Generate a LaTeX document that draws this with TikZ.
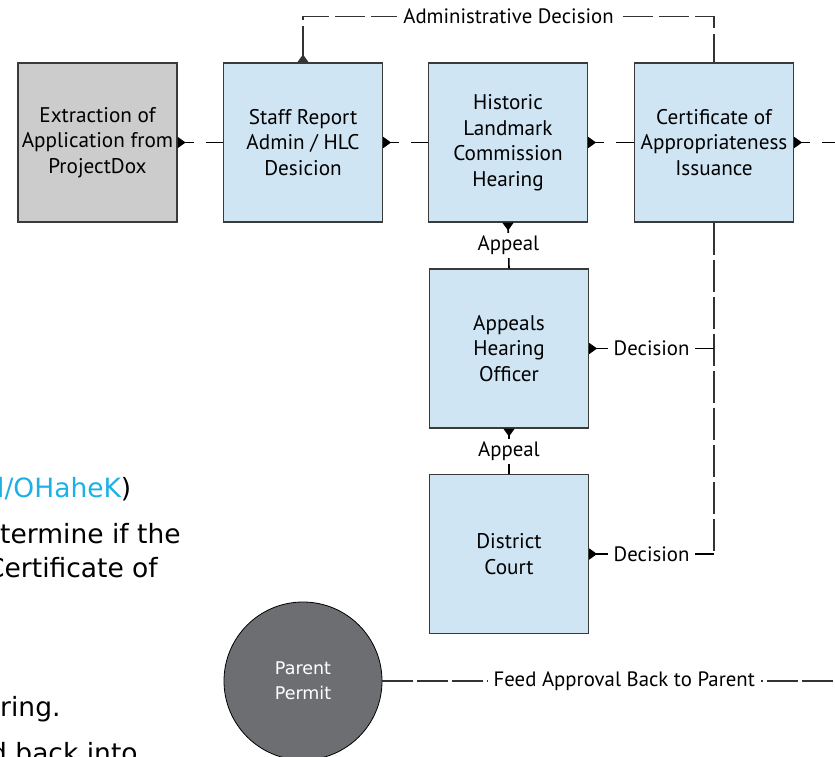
\documentclass[tikz,border=0pt]{standalone}
\usepackage{fontspec}
\setmainfont{PT Sans}
\newfontfamily\docfont{DejaVu Sans}
\usetikzlibrary{arrows.meta}
\definecolor{boxblue}{HTML}{CFE5F4}
\definecolor{boxgray}{HTML}{CCCCCC}
\definecolor{permitgray}{HTML}{6D6E71}
\definecolor{linkcyan}{HTML}{1BB1E6}
\definecolor{edgegray}{HTML}{3A3A3A}
\definecolor{wiregray}{HTML}{333333}
\begin{document}
\begin{tikzpicture}[x=1pt,y=-1pt,
  stepbox/.style={draw=edgegray, line width=1.2pt, fill=boxblue,
    minimum width=159pt, minimum height=159pt, inner sep=0pt,
    align=center, font=\fontsize{21.2}{25.5}\selectfont, text=black},
  graybox/.style={stepbox, fill=boxgray},
  lbl/.style={fill=white, inner sep=6pt, font=\fontsize{20.8}{25.5}\selectfont},
  outtip/.style={arrows={{Triangle[reversed,length=8pt,width=11pt]}-}},
  flowline/.style={draw=black, line width=1.8pt, outtip,
    dash pattern=on 10pt off 12pt on 60pt off 10pt},
  longdash/.style={draw=wiregray, line width=1.4pt,
    dash pattern=on 30pt off 6pt},
  shortline/.style={draw=black, line width=1.6pt, outtip},
  doctext/.style={inner sep=0pt, anchor=base west,
    font=\docfont\fontsize{26.5}{30}\selectfont}
]
\useasboundingbox (0,0) rectangle (835,757);
\clip (0,0) rectangle (835,757);

% text of the page lying beside the chart
\node[doctext] (d1) at (-3,497) {\textcolor{linkcyan}{l/OHaheK})};
\node[doctext] (d2) at (0,543) {termine if the};
\node[doctext] (d3) at (-14,577) {Certificate of};
\node[doctext] (d4) at (0,716) {ring.};
\node[doctext] (d5) at (-10,762) {d back into};

% process steps
\node[graybox] (ext)   at (97.5,142.5) {Extraction of\\Application from\\ProjectDox};
\node[stepbox] (staff) at (303,142.5)  {Staff Report\\Admin / HLC\\Desicion};
\node[stepbox] (hist)  at (508,142.5)  {Historic\\Landmark\\Commission\\Hearing};
\node[stepbox] (cert)  at (714,142.5)  {Certificate of\\Appropriateness\\Issuance};
\node[stepbox] (aho)   at (509,348.5)  {Appeals\\Hearing\\Officer};
\node[stepbox] (court) at (509,554)    {District\\Court};
\node[circle, draw=black, line width=0.8pt, fill=permitgray,
      minimum size=158pt, inner sep=0pt, text=white, align=center,
      font=\docfont\fontsize{17.5}{25}\selectfont] (parent) at (303,681) {Parent\\Permit};

% free ends leaving the right edge
\coordinate (certout) at (870,142.5);
\coordinate (feedout) at (866,681);

% main flow
\draw[flowline] (ext.east) -- (staff.west);
\draw[flowline] (staff.east) -- (hist.west);
\draw[flowline] (hist.east) -- (cert.west);
\draw[flowline] (cert.east) -- (certout);

% administrative shortcut over the top
\draw[longdash, outtip] (staff.north) -- ++(0,-46)
  -| node[pos=0.25, lbl] {Administrative Decision} (cert.north);

% appeals downwards
\draw[shortline] (hist.south) -- node[lbl, inner sep=3pt] {Appeal} (aho.north);
\draw[shortline] (aho.south) -- node[lbl, inner sep=3pt] {Appeal} (court.north);

% decisions back to issuance
\draw[longdash, dash pattern=on 32pt off 5pt] (cert.south) -- (court.east -| cert.south);
\draw[shortline] (aho.east) -- node[lbl] {Decision} (aho.east -| cert.south);
\draw[shortline] (court.east) -- node[lbl] {Decision} (court.east -| cert.south);

% feedback to the parent permit
\draw[draw=wiregray, line width=1.2pt, dash pattern=on 31pt off 4pt]
  (parent.east) -- node[lbl] {Feed Approval Back to Parent} (feedout);
\end{tikzpicture}
\end{document}
